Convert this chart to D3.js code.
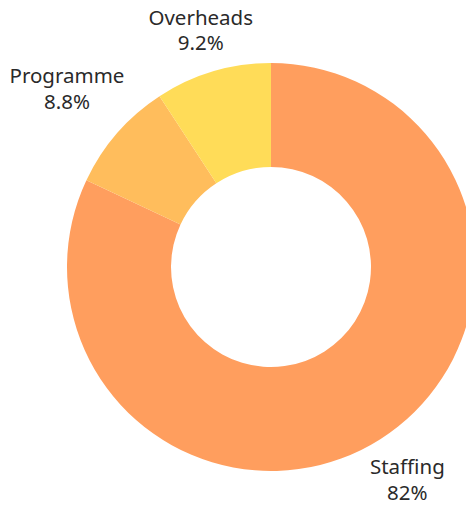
<!DOCTYPE html>
<html>
<head>
<meta charset="utf-8">
<script src="https://cdn.jsdelivr.net/npm/d3@7"></script>
<style>
  body { margin: 0; background: #fff; }
  text { font-family: "Noto Sans", "Open Sans", sans-serif; fill: #2a2a2a; }
</style>
</head>
<body>
<div id="chart"></div>
<script>
var categories = ["Staffing", "Programme", "Overheads"];
var values = [82, 8.8, 9.2];
var valueLabels = ["82%", "8.8%", "9.2%"];
var colours = ["#ff9e5e", "#ffbd5c", "#ffdc58"];

function init() {
    var w = 466, h = 507;
    var cx = 271, cy = 267,
        outerR = 204, innerR = 100,
        gap = 7;

    var dataset = categories.map(function(c, i) {
        return { name: c, value: values[i], label: valueLabels[i] };
    });

    var svg = d3.select("#chart")
        .append("svg")
        .attr("width", w)
        .attr("height", h);

    var g = svg.append("g")
        .attr("transform", `translate(${cx}, ${cy})`);

    var pie = d3.pie()
        .sort(null)
        .value(d => d.value);

    var arc = d3.arc()
        .innerRadius(innerR)
        .outerRadius(outerR);

    var colour = d3.scaleOrdinal()
        .domain(categories)
        .range(colours);

    var arcs = pie(dataset);

    g.selectAll("path")
        .data(arcs)
        .enter()
        .append("path")
        .attr("d", arc)
        .attr("fill", d => colour(d.data.name));

    var labels = g.selectAll("text.label")
        .data(arcs)
        .enter()
        .append("text")
        .attr("class", "label")
        .style("text-anchor", "middle")
        .style("font-size", "20.5px");

    labels.append("tspan")
        .attr("x", 0)
        .attr("dy", "-0.3em")
        .text(d => d.data.name);

    labels.append("tspan")
        .attr("x", 0)
        .attr("dy", "1.26em")
        .text(d => d.data.label);

    // push each label out along its mid angle until its box clears the ring
    labels.each(function(d) {
        var box = this.getBBox();
        var a = (d.startAngle + d.endAngle) / 2;
        var ux = Math.sin(a), uy = -Math.cos(a);
        var r = outerR;
        for (; r < 400; r += 0.5) {
            var x0 = box.x + ux * r, x1 = x0 + box.width,
                y0 = box.y + uy * r, y1 = y0 + box.height;
            var dx = Math.max(x0, 0, -x1), dy = Math.max(y0, 0, -y1);
            if (Math.sqrt(dx * dx + dy * dy) >= outerR + gap) break;
        }
        // keep the box inside the picture
        var tx = ux * r, ty = uy * r;
        ty = Math.min(ty, h - cy - (box.y + box.height) - 1);
        d3.select(this).attr("transform", `translate(${tx}, ${ty})`);
    });
}

window.onload = init;
</script>
</body>
</html>
